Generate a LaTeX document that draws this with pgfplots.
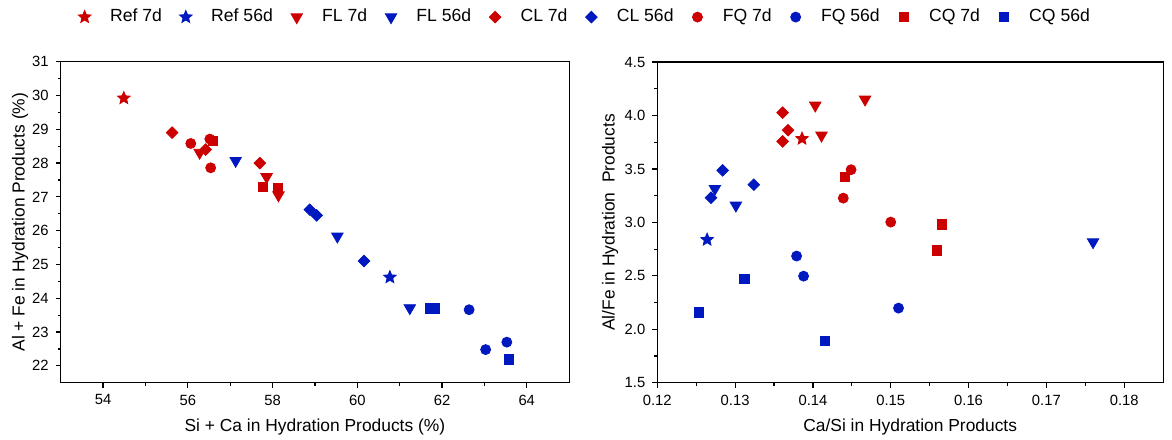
\documentclass[border=0pt]{standalone}
\usepackage{fontspec}
\setmainfont{Liberation Sans}
\usepackage{pgfplots}
\pgfplotsset{compat=1.18}
\definecolor{myred}{RGB}{204,0,0}
\definecolor{myblue}{RGB}{0,24,192}

\pgfdeclareplotmark{fstar}{%
  \pgfpathmoveto{\pgfpointpolar{90}{\pgfplotmarksize}}%
  \pgfpathlineto{\pgfpointpolar{126}{0.45\pgfplotmarksize}}%
  \pgfpathlineto{\pgfpointpolar{162}{\pgfplotmarksize}}%
  \pgfpathlineto{\pgfpointpolar{198}{0.45\pgfplotmarksize}}%
  \pgfpathlineto{\pgfpointpolar{234}{\pgfplotmarksize}}%
  \pgfpathlineto{\pgfpointpolar{270}{0.45\pgfplotmarksize}}%
  \pgfpathlineto{\pgfpointpolar{306}{\pgfplotmarksize}}%
  \pgfpathlineto{\pgfpointpolar{342}{0.45\pgfplotmarksize}}%
  \pgfpathlineto{\pgfpointpolar{18}{\pgfplotmarksize}}%
  \pgfpathlineto{\pgfpointpolar{54}{0.45\pgfplotmarksize}}%
  \pgfpathclose
  \pgfusepathqfillstroke}

\pgfplotsset{
  mystyle/.style={
    scale only axis,
    axis line style={line width=0.6pt},
    tick style={line width=0.6pt, black},
    tick align=outside,
    xtick pos=bottom, ytick pos=left,
    major tick length=2.5pt, minor tick length=1.5pt,
    minor x tick num=1, minor y tick num=1,
    tick label style={font=\fontsize{7.4}{9}\selectfont},
    label style={font=\fontsize{8.7}{10}\selectfont},
    /pgf/number format/assume math mode=true,
    only marks,
    legend image code/.code={\path (-4pt,0pt) (4pt,0pt); \draw[##1] plot coordinates {(0pt,0pt)};},
  },
  sref/.style={mark=fstar, mark size=3.3pt},
  sfl/.style={mark=triangle*, mark size=3.3pt, mark options={rotate=180}},
  scl/.style={mark=square*, mark size=2.05pt, mark options={rotate=45}},
  sfq/.style={mark=*, mark size=2.5pt},
  scq/.style={mark=square*, mark size=2.3pt},
}

\begin{document}
\begin{tikzpicture}
\path[use as bounding box] (-30.35pt,-28.15pt) rectangle (555.65pt,191.35pt);
\begin{axis}[mystyle,
  at={(0pt,0pt)}, anchor=south west,
  width=254.2pt, height=160.5pt,
  xmin=53, xmax=65, ymin=21.5, ymax=31,
  xtick={54,56,58,60,62,64},
  ytick={22,23,24,25,26,27,28,29,30,31},
  xlabel={Si + Ca in Hydration Products (\%)},
  ylabel={Al + Fe in Hydration Products (\%)},
  xlabel style={at={(axis description cs:0.5,-0.138)}, anchor=center},
  ylabel style={at={(axis description cs:-0.080,0.5)}, anchor=center},
  legend columns=10,
  legend style={at={(1.0275,1.139)}, anchor=center, draw=none, fill=none,
    font=\fontsize{8.8}{10}\selectfont,
    nodes={inner xsep=0pt},
    /tikz/every odd column/.append style={column sep=8.5pt},
    /tikz/every even column/.append style={column sep=7.75pt}},
]
\addplot[sref, color=myred] coordinates {(54.49,29.92)};
\addplot[sref, color=myblue] coordinates {(60.77,24.62)};
\addplot[sfl, color=myred] coordinates {(56.28,28.31) (57.86,27.59) (58.14,27.05)};
\addplot[sfl, color=myblue] coordinates {(57.13,28.07) (59.53,25.83) (61.24,23.71)};
\addplot[scl, color=myred] coordinates {(55.63,28.90) (56.42,28.40) (57.70,28.00)};
\addplot[scl, color=myblue] coordinates {(58.88,26.62) (59.04,26.45) (60.16,25.10)};
\addplot[sfq, color=myred] coordinates {(56.07,28.58) (56.52,28.71) (56.54,27.86)};
\addplot[sfq, color=myblue] coordinates {(62.64,23.66) (63.03,22.48) (63.53,22.70)};
\addplot[scq, color=myred] coordinates {(56.60,28.66) (57.78,27.29) (58.13,27.25)};
\addplot[scq, color=myblue] coordinates {(61.72,23.70) (61.84,23.70) (63.57,22.19)};
\legend{Ref 7d, Ref 56d, FL 7d, FL 56d, CL 7d, CL 56d, FQ 7d, FQ 56d, CQ 7d, CQ 56d}
\end{axis}
\begin{axis}[mystyle,
  at={(298.3pt,0pt)}, anchor=south west,
  width=252.9pt, height=160.3pt,
  xmin=0.12, xmax=0.185, ymin=1.5, ymax=4.5,
  xtick={0.12,0.13,0.14,0.15,0.16,0.17,0.18},
  ytick={1.5,2.0,2.5,3.0,3.5,4.0,4.5},
  xticklabel style={/pgf/number format/.cd, fixed, precision=2, fixed zerofill},
  yticklabel style={/pgf/number format/.cd, fixed, precision=1, fixed zerofill},
  xlabel={Ca/Si in Hydration Products},
  ylabel={Al/Fe in Hydration\ \ Products},
  xlabel style={at={(axis description cs:0.5,-0.138)}, anchor=center},
  ylabel style={at={(axis description cs:-0.0935,0.5)}, anchor=center},
]
\addplot[sref, color=myred] coordinates {(0.1386,3.783)};
\addplot[sref, color=myblue] coordinates {(0.1264,2.838)};
\addplot[sfl, color=myred] coordinates {(0.1403,4.095) (0.1411,3.814) (0.1467,4.151)};
\addplot[sfl, color=myblue] coordinates {(0.1274,3.315) (0.1301,3.159) (0.1760,2.816)};
\addplot[scl, color=myred] coordinates {(0.1361,4.027) (0.1368,3.863) (0.1361,3.758)};
\addplot[scl, color=myblue] coordinates {(0.1284,3.487) (0.1324,3.353) (0.1269,3.231)};
\addplot[sfq, color=myred] coordinates {(0.1449,3.493) (0.1439,3.227) (0.1500,3.003)};
\addplot[sfq, color=myblue] coordinates {(0.1379,2.685) (0.1388,2.497) (0.1510,2.198)};
\addplot[scq, color=myred] coordinates {(0.1441,3.424) (0.1566,2.981) (0.1559,2.738)};
\addplot[scq, color=myblue] coordinates {(0.1253,2.158) (0.1312,2.469) (0.1415,1.889)};
\end{axis}
\end{tikzpicture}
\end{document}
